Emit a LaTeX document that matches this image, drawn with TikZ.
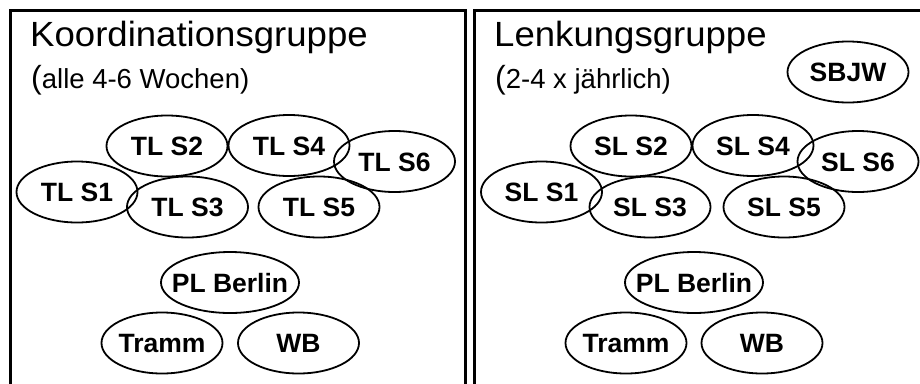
\documentclass[tikz,border=0pt]{standalone}
\usepackage{fontspec}
\setmainfont{Liberation Sans}
\usetikzlibrary{shapes.geometric}
\tikzset{
  frame/.style={line width=3pt},
  member/.style={ellipse, draw, line width=1.8pt, inner sep=0pt,
    minimum width=121pt, minimum height=61pt,
    text height=0pt, text depth=0pt,
    font=\fontsize{26.5}{26.5}\selectfont\bfseries},
  wide/.style={minimum width=138pt},
  heading/.style={anchor=base west, inner sep=0pt,
    font=\fontsize{35}{35}\selectfont},
  subheading/.style={anchor=base west, inner sep=0pt,
    font=\fontsize{27.5}{27.5}\selectfont},
}
% label of fixed-size ellipse: zero-width box, capitals centred vertically
\newcommand{\mlabel}[1]{\makebox[0pt]{\raisebox{-9.5pt}{#1}}}
% slightly widened title lettering and the oversized opening parenthesis
\newcommand{\widetitle}[1]{\scalebox{1.045}[1]{#1}}
\newcommand{\bigparen}{{\fontsize{32}{32}\selectfont(}}
\begin{document}
\begin{tikzpicture}[x=1pt,y=-1pt]
\useasboundingbox (0,0) rectangle (920,383);
\clip (0,0) rectangle (920,383);

% left panel: coordination group
\draw[frame] (10.5,400) -- (10.5,10.5) -- (465.5,10.5) -- (465.5,400);
\node[heading] (kgTitle) at (30,46.5) {\widetitle{Koordinationsgruppe}};
\node[subheading] (kgSub) at (31,88) {\bigparen alle 4-6 Wochen)};
\node[member] (tls2) at (167,146) {\mlabel{TL S2}};
\node[member] (tls4) at (289,145.5) {\mlabel{TL S4}};
\node[member] (tls6) at (394.5,161.5) {\mlabel{TL S6}};
\node[member] (tls1) at (77,192) {\mlabel{TL S1}};
\node[member] (tls3) at (187.5,207) {\mlabel{TL S3}};
\node[member] (tls5) at (319,207) {\mlabel{TL S5}};
\node[member,wide] (kgPL) at (230,282.5) {\mlabel{PL Berlin}};
\node[member] (kgTramm) at (162,343) {\mlabel{Tramm}};
\node[member] (kgWB) at (298.5,343) {\mlabel{WB}};

% right panel: steering group
\draw[frame] (474.5,400) -- (474.5,10.5) -- (930,10.5);
\node[heading] (lgTitle) at (494,46.5) {\widetitle{Lenkungsgruppe}};
\node[subheading] (lgSub) at (495,88) {\bigparen 2-4 x jährlich)};
\node[member] (sbjw) at (848,72) {\mlabel{SBJW}};
\node[member] (sls2) at (631,146) {\mlabel{SL S2}};
\node[member] (sls4) at (753,145.5) {\mlabel{SL S4}};
\node[member] (sls6) at (858,161.5) {\mlabel{SL S6}};
\node[member] (sls1) at (541.5,192) {\mlabel{SL S1}};
\node[member] (sls3) at (650,207) {\mlabel{SL S3}};
\node[member] (sls5) at (784,207) {\mlabel{SL S5}};
\node[member,wide] (lgPL) at (694,282.5) {\mlabel{PL Berlin}};
\node[member] (lgTramm) at (626,343) {\mlabel{Tramm}};
\node[member] (lgWB) at (762,343) {\mlabel{WB}};
\end{tikzpicture}
\end{document}
